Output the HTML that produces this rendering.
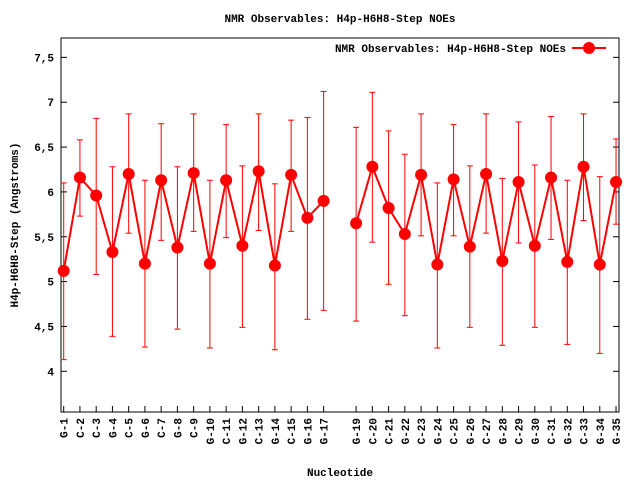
<!DOCTYPE html>
<html><head><meta charset="utf-8"><style>
html,body{margin:0;padding:0;background:#fff;}
svg{display:block;font-family:"Liberation Mono",monospace;font-weight:bold;font-size:11px;}
</style></head><body>
<svg id="chart" width="640" height="480" viewBox="0 0 640 480">
<rect width="640" height="480" fill="#fff"/>
<text x="340" y="22" text-anchor="middle">NMR Observables: H4p-H6H8-Step NOEs</text>
<text x="340" y="476" text-anchor="middle">Nucleotide</text>
<text transform="translate(18,225) rotate(-90)" text-anchor="middle">H4p-H6H8-Step (Angstroms)</text>
<g id="axes"></g>
<g id="marks"></g>
<g>
<text x="566" y="52" text-anchor="end">NMR Observables: H4p-H6H8-Step NOEs</text>
<line x1="572" y1="48" x2="606" y2="48" stroke="#f00" stroke-width="2"/>
<circle cx="589" cy="48" r="6" fill="#f00"/>
</g>
</svg>
<script>
const positions = [1,2,3,4,5,6,7,8,9,10,11,12,13,14,15,16,17,19,20,21,22,23,24,25,26,27,28,29,30,31,32,33,34,35];
const labels = ["G-1","C-2","C-3","G-4","C-5","G-6","C-7","G-8","C-9","G-10","C-11","G-12","C-13","G-14","C-15","G-16","G-17","G-19","C-20","C-21","G-22","C-23","G-24","C-25","G-26","C-27","G-28","C-29","G-30","C-31","G-32","C-33","G-34","G-35"];
const values = [5.12,6.16,5.96,5.33,6.20,5.20,6.13,5.38,6.21,5.20,6.13,5.40,6.23,5.18,6.19,5.71,5.90,5.65,6.28,5.82,5.53,6.19,5.19,6.14,5.39,6.20,5.23,6.11,5.40,6.16,5.22,6.28,5.19,6.11];
const upper = [6.10,6.58,6.82,6.28,6.87,6.13,6.76,6.28,6.87,6.13,6.75,6.29,6.87,6.09,6.80,6.83,7.12,6.72,7.11,6.68,6.42,6.87,6.10,6.75,6.29,6.87,6.15,6.78,6.30,6.84,6.13,6.87,6.17,6.59];
const lower = [4.13,5.73,5.08,4.39,5.54,4.27,5.46,4.47,5.56,4.26,5.49,4.49,5.57,4.24,5.56,4.58,4.68,4.56,5.44,4.97,4.62,5.51,4.26,5.51,4.49,5.54,4.29,5.43,4.49,5.47,4.30,5.68,4.20,5.64];
const yTicks = [4,4.5,5,5.5,6,6.5,7,7.5];
const yTickLabels = ["4","4,5","5","5,5","6","6,5","7","7,5"];

const L=61,R=619,T=38,B=412;
const xS = p => 63.7 + (p-1)*16.245;
const yS = v => 371.3 - (v-4)*89.7;
const NS="http://www.w3.org/2000/svg";
function mk(tag, attrs, parent){const e=document.createElementNS(NS,tag);for(const k in attrs)e.setAttribute(k,attrs[k]);parent.appendChild(e);return e;}
const axes=document.getElementById('axes'), marks=document.getElementById('marks');

const frame=mk('rect',{x:L,y:T,width:R-L,height:B-T,fill:'none',stroke:'#000','stroke-width':1},axes);



yTicks.forEach((v,i)=>{
  const y=yS(v);
  mk('line',{x1:L,y1:y,x2:L+6,y2:y,stroke:'#000'},axes);
  mk('line',{x1:R,y1:y,x2:R-6,y2:y,stroke:'#000'},axes);
  const t=mk('text',{x:L-7,y:y+4,'text-anchor':'end'},axes);
  t.textContent=yTickLabels[i];
  
  
});
positions.forEach((p,i)=>{
  const x=xS(p);
  mk('line',{x1:x,y1:B,x2:x,y2:B-6,stroke:'#000'},axes);
  const t=mk('text',{transform:`translate(${x+4},418) rotate(-90)`,'text-anchor':'end'},axes);
  t.textContent=labels[i];
  
  
});

// error bars
positions.forEach((p,i)=>{
  const x=xS(p);
  const g=mk('g',{stroke:'#f00','stroke-width':1},marks);
  
  
  mk('line',{x1:x,y1:yS(upper[i]),x2:x,y2:yS(lower[i])},g);
  mk('line',{x1:x-3,y1:yS(upper[i]),x2:x+3,y2:yS(upper[i])},g);
  mk('line',{x1:x-3,y1:yS(lower[i]),x2:x+3,y2:yS(lower[i])},g);
});
// lines (break at gaps)
let seg=[];
const segs=[];
positions.forEach((p,i)=>{
  if(i>0 && p-positions[i-1]>1){segs.push(seg);seg=[];}
  seg.push(xS(p)+','+yS(values[i]));
});
segs.push(seg);
segs.forEach(s=>{
  const pl=mk('polyline',{points:s.join(' '),fill:'none',stroke:'#f00','stroke-width':2},marks);
  
  
});
positions.forEach((p,i)=>{
  const c=mk('circle',{cx:xS(p),cy:yS(values[i]),r:6,fill:'#f00'},marks);
  
  
});
</script>
</body></html>
